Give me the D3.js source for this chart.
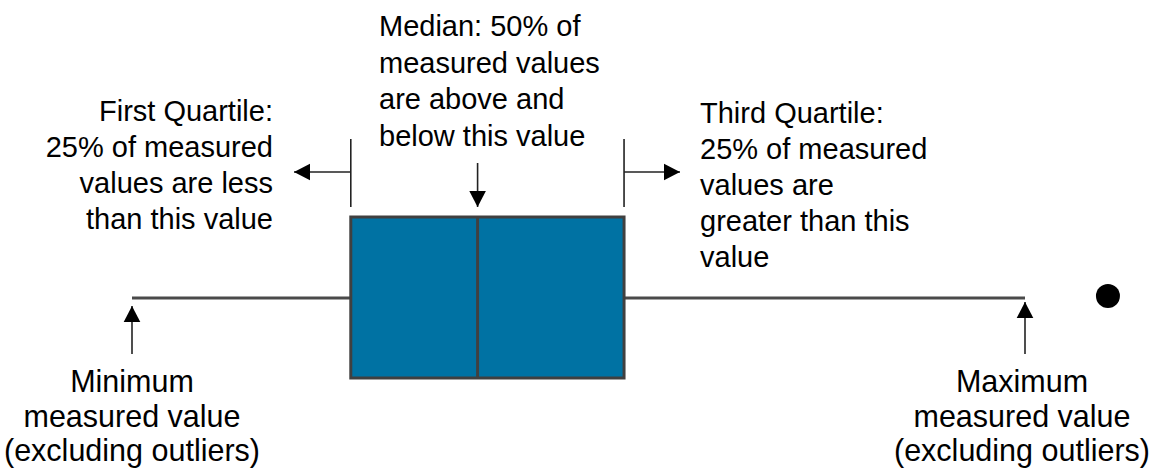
<!DOCTYPE html>
<html>
<head>
<meta charset="UTF-8">
<title>Box plot explained</title>
<script src="https://d3js.org/d3.v7.min.js"></script>
<style>
    body, html {
        margin: 0;
        background: #fff;
    }
    text {
        font-family: "Liberation Sans", Arial, sans-serif;
        font-size: 29px;
        fill: #000;
    }
    text.bottom {
        font-size: 30.5px;
    }
</style>
</head>
<body>
<div id="chart"></div>
<script>
    // box plot summary (arbitrary units)
    const statNames = ["min", "q1", "median", "q3", "max", "outlier"];
    const statValues = [0, 24.5, 38.7, 55.1, 100, 109.4];

    // annotation texts
    const q1Lines = ["First Quartile:", "25% of measured", "values are less", "than this value"];
    const medianLines = ["Median: 50% of", "measured values", "are above and", "below this value"];
    const q3Lines = ["Third Quartile:", "25% of measured", "values are", "greater than this", "value"];
    const minLines = ["Minimum", "measured value", "(excluding outliers)"];
    const maxLines = ["Maximum", "measured value", "(excluding outliers)"];

    const width = 1152, height = 469;
    const stat = {};
    statNames.forEach((n, i) => stat[n] = statValues[i]);

    const x = d3.scaleLinear().domain([0, 100]).range([132, 1025]);

    const boxTop = 217, boxBottom = 378, midY = 298;

    const svg = d3.select("#chart").append("svg")
        .attr("width", width)
        .attr("height", height);

    svg.append("defs").append("marker")
        .attr("id", "head")
        .attr("markerUnits", "userSpaceOnUse")
        .attr("viewBox", "0 -9 16 18")
        .attr("refX", 16).attr("refY", 0)
        .attr("markerWidth", 16).attr("markerHeight", 18)
        .attr("orient", "auto")
        .append("path")
        .attr("d", "M0,-8.3L16,0L0,8.3Z")
        .attr("fill", "#000");

    // whiskers
    svg.append("line")
        .attr("x1", x(stat.min)).attr("x2", x(stat.q1))
        .attr("y1", midY).attr("y2", midY)
        .attr("stroke", "#4a4a4a").attr("stroke-width", 3);
    svg.append("line")
        .attr("x1", x(stat.q3)).attr("x2", x(stat.max))
        .attr("y1", midY).attr("y2", midY)
        .attr("stroke", "#4a4a4a").attr("stroke-width", 3);

    // box
    svg.append("rect")
        .attr("x", x(stat.q1)).attr("y", boxTop)
        .attr("width", x(stat.q3) - x(stat.q1))
        .attr("height", boxBottom - boxTop)
        .attr("fill", "#0072a3")
        .attr("stroke", "#404040").attr("stroke-width", 3);
    svg.append("line")
        .attr("x1", x(stat.median)).attr("x2", x(stat.median))
        .attr("y1", boxTop).attr("y2", boxBottom)
        .attr("stroke", "#404040").attr("stroke-width", 3);

    // outlier
    svg.append("circle")
        .attr("cx", x(stat.outlier) - 1).attr("cy", 296)
        .attr("r", 12)
        .attr("fill", "#000");

    // annotation lines
    const ann = svg.append("g").attr("stroke", "#222").attr("stroke-width", 1.6).attr("fill", "none");

    // quartile ticks
    [stat.q1, stat.q3].forEach(v => {
        ann.append("line")
            .attr("x1", x(v)).attr("x2", x(v))
            .attr("y1", 139).attr("y2", 207);
    });
    ann.append("line")
        .attr("x1", x(stat.q1)).attr("x2", 294)
        .attr("y1", 172).attr("y2", 172)
        .attr("marker-end", "url(#head)");
    ann.append("line")
        .attr("x1", x(stat.q3)).attr("x2", 680)
        .attr("y1", 172).attr("y2", 172)
        .attr("marker-end", "url(#head)");
    ann.append("line")
        .attr("x1", x(stat.median)).attr("x2", x(stat.median))
        .attr("y1", 163).attr("y2", 207)
        .attr("marker-end", "url(#head)");
    ann.append("line")
        .attr("x1", x(stat.min)).attr("x2", x(stat.min))
        .attr("y1", 354).attr("y2", 306)
        .attr("marker-end", "url(#head)");
    ann.append("line")
        .attr("x1", x(stat.max)).attr("x2", x(stat.max))
        .attr("y1", 354).attr("y2", 302)
        .attr("marker-end", "url(#head)");

    function label(lines, px, py, anchor, step, cls) {
        const t = svg.append("text")
            .attr("class", cls || null)
            .attr("text-anchor", anchor);
        lines.forEach((s, i) => {
            t.append("tspan")
                .attr("x", px)
                .attr("y", py + i * step)
                .text(s);
        });
    }

    label(q1Lines, 273, 121, "end", 36);
    label(medianLines, 379, 36, "start", 36.5);
    label(q3Lines, 700, 123, "start", 36);
    label(minLines, x(stat.min), 392, "middle", 34.5, "bottom");
    label(maxLines, x(stat.max) - 3, 392, "middle", 34.5, "bottom");
</script>
</body>
</html>
